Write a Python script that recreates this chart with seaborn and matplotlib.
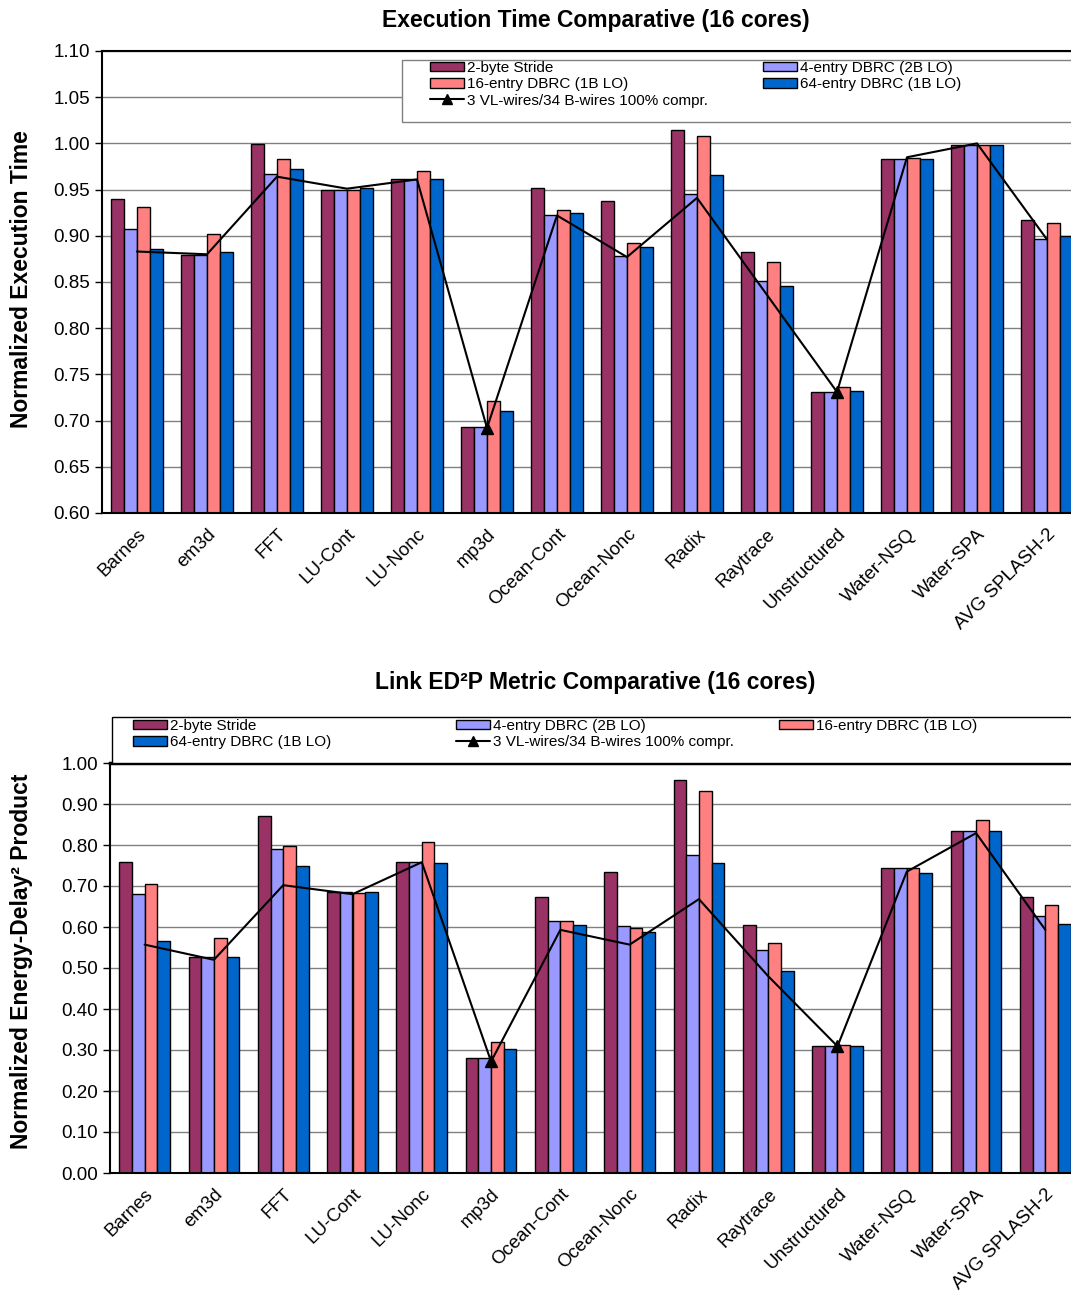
import numpy as np
import pandas as pd
import matplotlib
matplotlib.use('Agg')
import matplotlib.pyplot as plt
import seaborn as sns
from matplotlib.patches import Patch, Rectangle
from matplotlib.lines import Line2D
from matplotlib.ticker import FixedLocator, MultipleLocator, FormatStrFormatter

sns.set_style('white')
plt.rcParams['font.family'] = ['Liberation Sans', 'DejaVu Sans']
plt.rcParams['text.color'] = 'black'
plt.rcParams['xtick.color'] = 'black'
plt.rcParams['ytick.color'] = 'black'

benchmarks = ['Barnes', 'em3d', 'FFT', 'LU-Cont', 'LU-Nonc', 'mp3d', 'Ocean-Cont',
              'Ocean-Nonc', 'Radix', 'Raytrace', 'Unstructured', 'Water-NSQ',
              'Water-SPA', 'AVG SPLASH-2']
series = ['2-byte Stride', '4-entry DBRC (2B LO)', '16-entry DBRC (1B LO)', '64-entry DBRC (1B LO)']
line_label = '3 VL-wires/34 B-wires 100% compr.'
colors = ['#993366', '#9999FF', '#FF8080', '#0066CC']

# execution time (top)
time_stride = [0.940, 0.879, 0.999, 0.950, 0.962, 0.693, 0.952, 0.938, 1.014, 0.883, 0.731, 0.983, 0.998, 0.917]
time_dbrc4 = [0.907, 0.879, 0.967, 0.950, 0.962, 0.693, 0.922, 0.878, 0.945, 0.851, 0.731, 0.983, 0.998, 0.897]
time_dbrc16 = [0.931, 0.902, 0.983, 0.950, 0.970, 0.721, 0.928, 0.892, 1.008, 0.872, 0.736, 0.984, 0.998, 0.914]
time_dbrc64 = [0.886, 0.882, 0.972, 0.952, 0.962, 0.710, 0.925, 0.888, 0.966, 0.846, 0.732, 0.983, 0.998, 0.900]
time_vl = [0.883, 0.880, 0.964, 0.951, 0.961, 0.692, 0.922, 0.877, 0.941, 0.836, 0.731, 0.985, 1.000, 0.896]

# link ED2P (bottom)
ed2p_stride = [0.758, 0.528, 0.871, 0.685, 0.758, 0.280, 0.674, 0.734, 0.959, 0.606, 0.309, 0.744, 0.835, 0.672]
ed2p_dbrc4 = [0.680, 0.528, 0.790, 0.685, 0.758, 0.280, 0.614, 0.602, 0.776, 0.544, 0.309, 0.744, 0.835, 0.627]
ed2p_dbrc16 = [0.706, 0.572, 0.798, 0.684, 0.808, 0.319, 0.615, 0.597, 0.932, 0.562, 0.313, 0.744, 0.862, 0.654]
ed2p_dbrc64 = [0.566, 0.526, 0.750, 0.685, 0.757, 0.302, 0.605, 0.587, 0.755, 0.493, 0.309, 0.731, 0.834, 0.607]
ed2p_vl = [0.557, 0.520, 0.702, 0.680, 0.758, 0.272, 0.593, 0.557, 0.668, 0.480, 0.309, 0.735, 0.829, 0.593]

W, H = 1071, 1292
fig = plt.figure(figsize=(W / 100, H / 100), dpi=100)


def long_df(cols):
    rows = []
    for s, vals in zip(series, cols):
        for b, v in zip(benchmarks, vals):
            rows.append({'bench': b, 'config': s, 'value': v})
    return pd.DataFrame(rows)


def draw(ax, cols, vl, ylo, yhi, step, marks):
    sns.barplot(data=long_df(cols), x='bench', y='value', hue='config', order=benchmarks,
                hue_order=series, palette=colors, width=0.73, gap=0, saturation=1,
                edgecolor='black', linewidth=1, legend=False, ax=ax)
    ax.plot(range(len(benchmarks)), vl, color='black', lw=1.5, marker='^', ms=8,
            markevery=marks, zorder=5)
    ax.set_xlim(-0.5, len(benchmarks) - 0.5)
    ax.set_ylim(ylo, yhi)
    ax.yaxis.set_major_locator(MultipleLocator(step))
    ax.yaxis.set_major_formatter(FormatStrFormatter('%.2f'))
    ax.yaxis.grid(True, color='#808080', lw=1)
    ax.set_axisbelow(True)
    ax.set_xlabel('')
    ax.set_ylabel('')
    ax.xaxis.set_minor_locator(FixedLocator(np.arange(-0.5, len(benchmarks), 1)))
    ax.tick_params(axis='x', which='major', length=0, pad=9, labelsize=13.5)
    ax.tick_params(axis='x', which='minor', length=6, width=1, color='#555555', direction='out')
    ax.tick_params(axis='y', length=5, width=1, direction='out', left=True, labelsize=13.5)
    for lab in ax.get_xticklabels():
        lab.set_rotation(45)
        lab.set_ha('right')
        lab.set_rotation_mode('anchor')
    for sp in ax.spines.values():
        sp.set_color('black')
        sp.set_linewidth(1.5)
    ax.spines['right'].set_visible(False)


def legend_col(items, x, y, fs=11):
    handles = []
    labels = []
    for name, col in items:
        if col is None:
            handles.append(Line2D([], [], color='black', lw=1.5, marker='^', ms=7))
        else:
            handles.append(Patch(facecolor=col, edgecolor='black', lw=1))
        labels.append(name)
    fig.legend(handles, labels, loc='upper left', bbox_to_anchor=(x / W, 1 - y / H),
               frameon=False, borderpad=0, borderaxespad=0, fontsize=fs,
               handlelength=2.2, handleheight=0.6, handletextpad=0.2, labelspacing=0.15)


# top chart
ax1 = fig.add_axes([102 / W, 1 - 513 / H, 980 / W, 462 / H])
draw(ax1, [time_stride, time_dbrc4, time_dbrc16, time_dbrc64], time_vl, 0.60, 1.10, 0.05, [5, 10])
fig.patches.append(Rectangle((402 / W, 1 - 122 / H), 700 / W, 62 / H, transform=fig.transFigure,
                             facecolor='white', edgecolor='#808080', lw=1, zorder=2))
legend_col([(series[0], colors[0]), (series[2], colors[2]), (line_label, None)], 430, 61)
legend_col([(series[1], colors[1]), (series[3], colors[3])], 763, 61)
fig.text(596 / W, 1 - 20 / H, 'Execution Time Comparative (16 cores)', ha='center', va='center',
         fontsize=16.5, fontweight='bold')
fig.text(22 / W, 1 - 279 / H, 'Normalized Execution Time', ha='center', va='center',
         rotation=90, fontsize=16.5, fontweight='bold')

# bottom chart
ax2 = fig.add_axes([110 / W, 1 - 1173 / H, 970 / W, 410 / H])
draw(ax2, [ed2p_stride, ed2p_dbrc4, ed2p_dbrc16, ed2p_dbrc64], ed2p_vl, 0.0, 1.0, 0.10, [5, 10])
ax2.spines['top'].set_linewidth(2.5)
fig.patches.append(Rectangle((112 / W, 1 - 763 / H), 1000 / W, 46 / H, transform=fig.transFigure,
                             facecolor='white', edgecolor='black', lw=1, zorder=2))
legend_col([(series[0], colors[0]), (series[3], colors[3])], 133, 719)
legend_col([(series[1], colors[1]), (line_label, None)], 456, 719)
legend_col([(series[2], colors[2])], 779, 719)
fig.text(595 / W, 1 - 682 / H, 'Link ED²P Metric Comparative (16 cores)', ha='center', va='center',
         fontsize=16.5, fontweight='bold')
fig.text(22 / W, 1 - 961 / H, 'Normalized Energy-Delay² Product', ha='center', va='center',
         rotation=90, fontsize=16.5, fontweight='bold')

fig.savefig('out.png', dpi=100, facecolor='white')
